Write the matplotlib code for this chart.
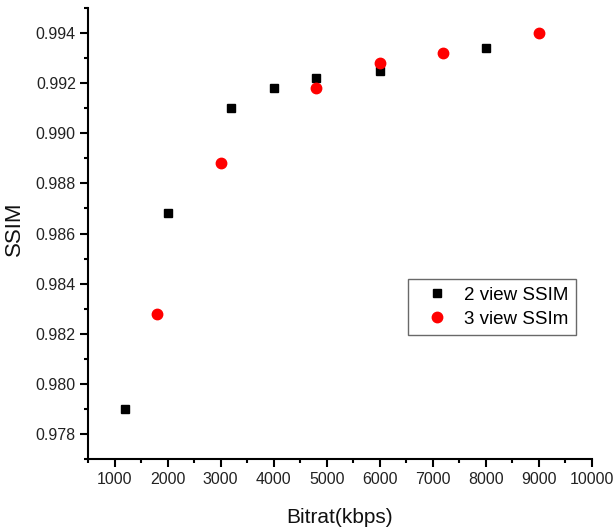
import matplotlib
matplotlib.use("Agg")
import matplotlib.pyplot as plt
from matplotlib.ticker import MultipleLocator, FormatStrFormatter

plt.rcParams['font.family'] = ['Liberation Sans', 'DejaVu Sans']

x2 = [1200, 2000, 3200, 4000, 4800, 6000, 8000]
y2 = [0.9790, 0.9868, 0.9910, 0.9918, 0.9922, 0.9925, 0.9934]
x3 = [1800, 3000, 4800, 6000, 7200, 9000]
y3 = [0.9828, 0.9888, 0.9918, 0.9928, 0.9932, 0.9940]
xticks = list(range(1000, 10001, 1000))
label2 = "2 view SSIM"
label3 = "3 view SSIm"

fig = plt.figure(figsize=(6.15, 5.27), dpi=100)
# axes: left 88px, right 592px, top 8px, bottom 459px
ax = fig.add_axes([88/615, (527-459)/527, (592-88)/615, (459-8)/527])
ax.plot(x2, y2, 's', color='black', markersize=6, label=label2, linestyle='none')
ax.plot(x3, y3, 'o', color='red', markersize=7.5, label=label3, linestyle='none')

ax.set_xlim(500, 10000)
ax.set_ylim(0.977, 0.995)
ax.set_xticks(xticks)
ax.xaxis.set_minor_locator(MultipleLocator(500))
ax.yaxis.set_major_locator(MultipleLocator(0.002))
ax.yaxis.set_minor_locator(MultipleLocator(0.001))
ax.yaxis.set_major_formatter(FormatStrFormatter('%.3f'))
ax.spines['top'].set_visible(False)
ax.spines['right'].set_visible(False)
for s in ['left', 'bottom']:
    ax.spines[s].set_linewidth(1.5)
ax.tick_params(which='major', direction='out', length=5.8, width=1.5, labelsize=11.5,
               colors='black', labelcolor='#222222')
ax.tick_params(which='minor', direction='out', length=3, width=1.5)
ax.tick_params(axis='x', which='major', pad=3.6)
ax.tick_params(axis='y', which='major', pad=3)
ax.set_xlabel("Bitrat(kbps)", fontsize=15, color='#111111')
ax.set_ylabel("SSIM", fontsize=16, color='#111111')
ax.xaxis.label.set_verticalalignment('baseline')
ax.xaxis.set_label_coords(0.5, -(523-459)/451)
ax.yaxis.label.set_verticalalignment('center')
ax.yaxis.set_label_coords(-(88-14)/504, (459-229)/451)

leg = ax.legend(loc='upper left', bbox_to_anchor=((408-88)/504, (459-279)/451), fontsize=13.5,
                frameon=True, fancybox=False, edgecolor='#444444', borderaxespad=0,
                handletextpad=0.3, borderpad=0.4, labelspacing=0.38, handlelength=2.3)
leg.get_frame().set_linewidth(1.0)

fig.savefig("out.png", dpi=100)
